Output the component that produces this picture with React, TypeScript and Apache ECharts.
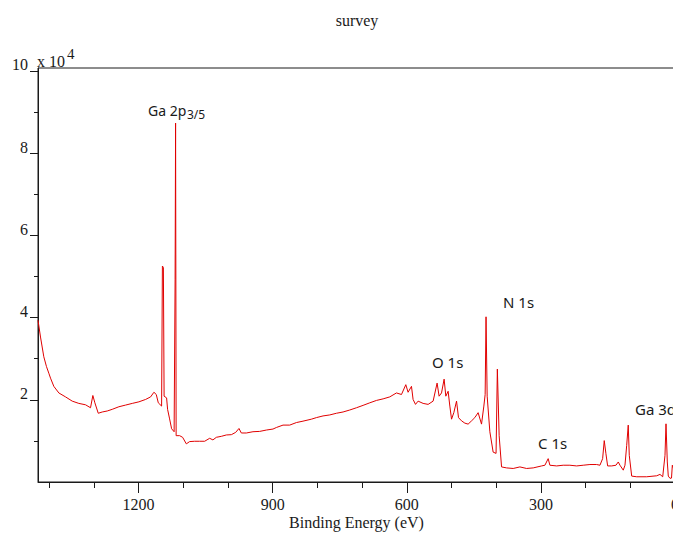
import React, { useEffect, useRef } from "react";
import * as echarts from "echarts";

// Binding energy (eV) of each sampled point, high to low
const bindingEnergy = [
  1425.0, 1419.4, 1412.0, 1406.0, 1400.8, 1397.0, 1389.6, 1378.4, 1363.4, 1348.4,
  1333.7, 1318.7, 1307.5, 1302.3, 1297.8, 1290.2, 1281.3, 1270.1, 1258.9, 1244.1,
  1229.1, 1214.1, 1199.3, 1184.3, 1173.1, 1165.7, 1160.4, 1155.9, 1148.5, 1146.7,
  1144.5, 1142.9, 1137.3, 1135.1, 1130.6, 1126.1, 1120.5, 1118.3, 1117.2, 1116.0,
  1108.2, 1101.5, 1093.2, 1085.8, 1074.6, 1063.4, 1052.2, 1041.0, 1033.7, 1026.0,
  1014.8, 1003.7, 992.5, 982.8, 975.4, 970.1, 958.9, 944.1, 929.1, 914.1,
  899.3, 891.7, 876.9, 861.9, 846.9, 832.2, 813.4, 802.2, 787.4, 772.4,
  757.4, 742.6, 727.6, 712.6, 697.8, 682.8, 667.8, 653.0, 638.1, 623.1,
  611.9, 602.2, 597.1, 589.5, 585.9, 580.5, 574.7, 563.5, 552.3, 541.1,
  532.2, 527.7, 522.3, 516.5, 512.7, 507.5, 503.7, 499.9, 494.8, 488.7,
  484.3, 477.5, 470.1, 462.8, 455.1, 447.8, 440.4, 432.8, 427.6, 424.7,
  422.7, 420.2, 414.2, 406.8, 400.3, 397.4, 393.4, 388.0, 376.8, 362.0,
  347.0, 332.0, 317.2, 298.4, 291.0, 283.7, 279.9, 264.8, 250.1, 235.1,
  220.1, 205.3, 190.3, 175.3, 167.9, 161.9, 158.3, 154.5, 150.7, 141.7,
  132.1, 126.9, 123.1, 115.7, 111.9, 108.1, 104.6, 102.3, 96.9, 85.7,
  63.4, 41.0, 33.6, 27.5, 22.4, 20.1, 17.2, 15.0, 11.2, 7.8,
  6.0, 2.2,
];

// Intensity (counts) at each binding energy
const counts = [
  39340, 35260, 30460, 28060, 26460, 25260, 23270, 21660, 20700, 19670,
  19120, 18780, 18060, 21040, 19260, 16720, 17030, 17270, 17680, 18300,
  18710, 19120, 19500, 20080, 20700, 21830, 21280, 19260, 18470, 52530,
  52200, 20870, 20460, 17680, 15350, 12950, 12230, 49170, 87310, 11270,
  11270, 10870, 9280, 9830, 9910, 9910, 9910, 10630, 10240, 10870,
  11110, 11440, 11510, 12070, 13020, 11920, 11920, 12230, 12310, 12640,
  12880, 13260, 13840, 13840, 14460, 14800, 15280, 15660, 16070, 16310,
  16720, 17030, 17510, 18060, 18640, 19260, 19840, 20220, 20700, 21660,
  21280, 23670, 21830, 23270, 20080, 18880, 19670, 19120, 18880, 19670,
  24060, 20870, 21660, 25020, 20870, 22070, 18470, 15280, 16860, 19670,
  15660, 14870, 14320, 14080, 14870, 15660, 16860, 14080, 18470, 21280,
  40180, 20870, 12230, 7270, 6960, 27460, 11270, 3670, 3430, 3290,
  3670, 3290, 3430, 3910, 4080, 5680, 4080, 3910, 4080, 4080,
  3910, 4080, 4250, 4250, 4080, 5680, 10070, 6880, 3910, 3910,
  4080, 4870, 4080, 2880, 4080, 8870, 13840, 6480, 1440, 1270,
  1270, 1510, 1850, 1270, 6480, 14150, 4870, 1440, 890, 960,
  4080, 2880,
];

const xLabelValues = [0, 300, 600, 900, 1200];
const xMinorTickValues = [0, 100, 200, 300, 400, 500, 600, 700, 800, 900, 1000, 1100, 1200, 1300, 1400];
const yLabelValues = [20000, 40000, 60000, 80000, 100000];
const yMinorTickValues = [10000, 30000, 50000, 70000, 90000];

const titleText = "survey";
const xAxisTitle = "Binding Energy (eV)";
const peakNames = ["Ga 2p", "3/5", "O 1s", "N 1s", "C 1s", "Ga 3d"];

const SERIF = "'Liberation Serif', 'Times New Roman', serif";
const SANS = "'Noto Sans', 'Open Sans', sans-serif";
const INK = "#1a1a1a";

export default function App() {
  const ref = useRef<HTMLDivElement>(null);

  useEffect(() => {
    document.body.style.overflow = "hidden";
    if (!ref.current) return;
    const chart = echarts.init(ref.current, undefined, { renderer: "svg" });

    const xMin = 0;
    const xMax = 1425;
    const yMin = 0;
    const yMax = 100700;

    const peakPos: Array<[number, number, number]> = [
      [148, 110, 14],
      [187, 114, 12],
      [432, 362, 15],
      [503, 302, 15],
      [538, 443, 15],
      [635, 409, 15],
    ];

    chart.setOption({
      animation: false,
      backgroundColor: "#ffffff",
      grid: {
        left: 38,
        right: 25,
        top: 68,
        bottom: 48,
        show: true,
        borderColor: INK,
        borderWidth: 1,
        backgroundColor: "transparent",
      },
      xAxis: [
        {
          type: "value",
          min: xMin,
          max: xMax,
          inverse: true,
          position: "bottom",
          axisLine: { show: true, onZero: false, lineStyle: { color: INK, width: 1 } },
          axisTick: { show: true, customValues: xMinorTickValues, length: 6, lineStyle: { color: INK } },
          axisLabel: { show: false },
          splitLine: { show: false },
          name: xAxisTitle,
          nameLocation: "middle",
          nameGap: 32,
          nameTextStyle: { fontFamily: SERIF, fontSize: 16, color: INK },
        },
        {
          type: "value",
          min: xMin,
          max: xMax,
          inverse: true,
          position: "bottom",
          axisLine: { show: false, onZero: false },
          axisTick: { show: true, customValues: xLabelValues, length: 11, lineStyle: { color: INK } },
          axisLabel: {
            show: true,
            customValues: xLabelValues,
            formatter: (v: number) => String(v),
            fontFamily: SERIF,
            fontSize: 16,
            color: INK,
            margin: 14,
          },
          splitLine: { show: false },
        },
      ],
      yAxis: [
        {
          type: "value",
          min: yMin,
          max: yMax,
          position: "left",
          axisLine: { show: true, onZero: false, lineStyle: { color: INK, width: 1 } },
          axisTick: { show: true, customValues: yLabelValues, length: 8, lineStyle: { color: INK } },
          axisLabel: {
            show: true,
            customValues: yLabelValues,
            formatter: (v: number) => String(v / 10000),
            fontFamily: SERIF,
            fontSize: 16,
            color: INK,
            margin: 10,
            verticalAlign: "bottom",
            lineHeight: 12,
          },
          splitLine: { show: false },
        },
        {
          type: "value",
          min: yMin,
          max: yMax,
          position: "left",
          axisLine: { show: false, onZero: false },
          axisTick: { show: true, customValues: yMinorTickValues, length: 4, lineStyle: { color: INK } },
          axisLabel: { show: false },
          splitLine: { show: false },
        },
      ],
      series: [
        {
          type: "line",
          xAxisIndex: 0,
          yAxisIndex: 0,
          data: bindingEnergy.map((x, i) => [x, counts[i]]),
          showSymbol: false,
          symbol: "none",
          lineStyle: { color: "#e00000", width: 1 },
          clip: true,
          silent: true,
        },
      ],
      graphic: [
        {
          type: "text",
          x: 357,
          y: 20,
          style: { text: titleText, font: `16px ${SERIF}`, fill: INK, align: "center", verticalAlign: "middle" },
        },
        {
          type: "text",
          x: 37,
          y: 61,
          style: { text: "x 10", font: `16px ${SERIF}`, fill: INK, align: "left", verticalAlign: "middle" },
        },
        {
          type: "text",
          x: 67,
          y: 54,
          style: { text: "4", font: `15px ${SERIF}`, fill: INK, align: "left", verticalAlign: "middle" },
        },
        ...peakNames.map((t, i) => ({
          type: "text",
          x: peakPos[i][0],
          y: peakPos[i][1],
          style: {
            text: t,
            font: `${peakPos[i][2]}px ${SANS}`,
            fill: INK,
            align: "left",
            verticalAlign: "middle",
          },
        })),
      ],
    });

    return () => {
      chart.dispose();
    };
  }, []);

  return (
    <div
      ref={ref}
      style={{ position: "fixed", left: 0, top: 0, width: 700, height: 535 }}
    />
  );
}
